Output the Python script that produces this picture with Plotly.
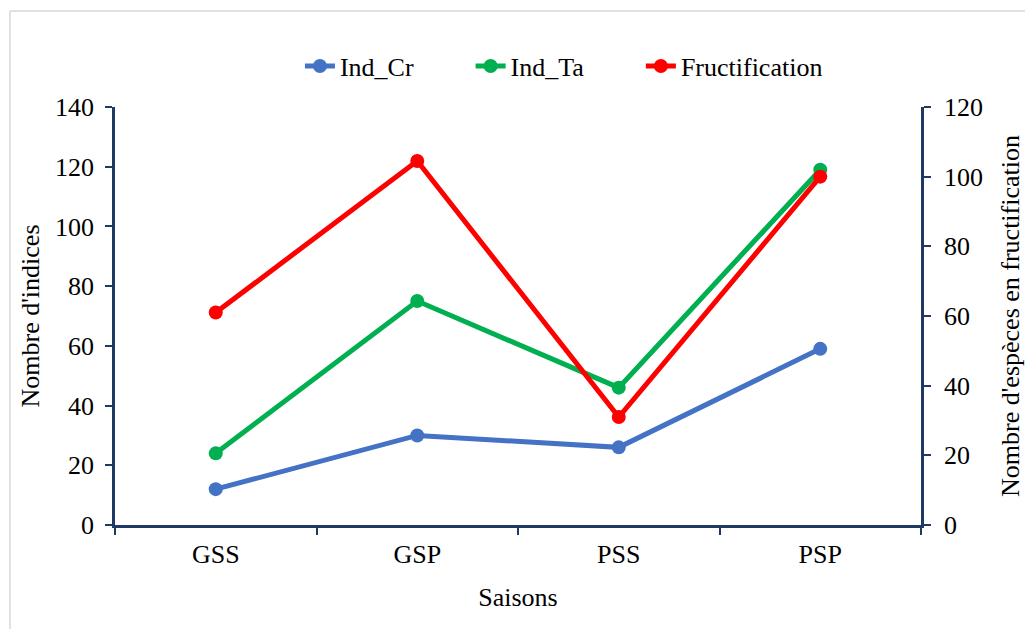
import plotly.graph_objects as go

saisons = ["GSS", "GSP", "PSS", "PSP"]
ind_cr = [12, 30, 26, 59]
ind_ta = [24, 75, 46, 119]
fructification = [61, 104.5, 31, 100]

axis_color = "#1F3864"
font_family = "Liberation Serif"
pad = "\u00a0" * 8

fig = go.Figure()
fig.add_trace(go.Scatter(x=saisons, y=ind_cr, name="Ind_Cr" + pad, mode="lines+markers",
                         line=dict(color="#4472C4", width=5), marker=dict(size=14, color="#4472C4")))
fig.add_trace(go.Scatter(x=saisons, y=ind_ta, name="Ind_Ta" + pad, mode="lines+markers",
                         line=dict(color="#00B050", width=5), marker=dict(size=14, color="#00B050")))
fig.add_trace(go.Scatter(x=saisons, y=fructification, name="Fructification", mode="lines+markers",
                         yaxis="y2",
                         line=dict(color="#FF0000", width=5), marker=dict(size=14, color="#FF0000")))

fig.update_layout(
    width=1025, height=629,
    margin=dict(l=115, r=104, t=107, b=104, autoexpand=False),
    paper_bgcolor="white", plot_bgcolor="white",
    font=dict(family=font_family, size=26, color="black"),
    showlegend=True,
    legend=dict(orientation="h", x=0.557, xanchor="center", y=1.098, yanchor="middle",
                font=dict(size=26), traceorder="normal"),
    xaxis=dict(type="category", range=[-0.5, 3.5], tickson="boundaries", ticks="outside",
               ticklen=7, tickwidth=2, ticklabelstandoff=4, automargin=False,
               tickcolor=axis_color, showline=True, linecolor=axis_color, linewidth=2.5,
               showgrid=False, zeroline=False,
               title=dict(text="Saisons", font=dict(size=26), standoff=20)),
    yaxis=dict(range=[0, 140], dtick=20, ticks="outside", ticklen=7, tickwidth=2,
               ticklabelstandoff=6, automargin=False,
               tickcolor=axis_color, showline=True, linecolor=axis_color, linewidth=2.5,
               showgrid=False, zeroline=False,
               title=dict(text="Nombre d'indices", font=dict(size=26), standoff=8)),
    yaxis2=dict(range=[0, 120], dtick=20, overlaying="y", side="right", ticks="outside",
                ticklen=7, tickwidth=2, ticklabelstandoff=8, tickcolor=axis_color, showline=True,
                automargin=False,
                linecolor=axis_color, linewidth=2.5, showgrid=False, zeroline=False,
                title=dict(text="Nombre d'espèces en fructification", font=dict(size=26), standoff=25)),
    shapes=[
        dict(type="line", xref="paper", yref="paper", x0=-0.1303, x1=1.2, y0=1.2297, y1=1.2297,
             line=dict(color="#D9D9D9", width=1.5)),
        dict(type="line", xref="paper", yref="paper", x0=-0.1303, x1=-0.1303, y0=-0.3, y1=1.2297,
             line=dict(color="#D9D9D9", width=1.5)),
    ],
)

fig.write_html("out.html")
